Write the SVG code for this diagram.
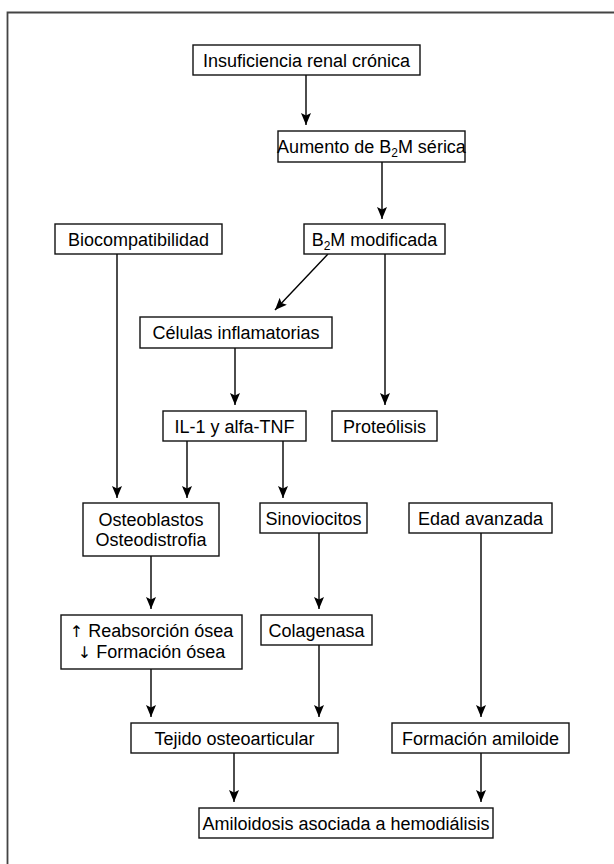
<svg xmlns="http://www.w3.org/2000/svg" width="614" height="864" viewBox="0 0 614 864">
<defs>
<marker id="ah" viewBox="0 0 12 10" refX="12" refY="5" markerWidth="12" markerHeight="10" markerUnits="userSpaceOnUse" orient="auto">
<path d="M0,0 L12,5 L0,10 L2.5,5 z" fill="#000"/>
</marker>
</defs>
<style>
.b{fill:#fff;stroke:#111;stroke-width:1.4}
.t{font-family:"Liberation Sans",Arial,Helvetica,sans-serif;font-size:18px;fill:#000;text-anchor:middle}
.s{font-size:12px}
.ar{font-family:"DejaVu Sans",sans-serif;font-size:16px}
.c{stroke:#000;stroke-width:1.4;fill:none;marker-end:url(#ah)}
</style>
<rect width="614" height="864" fill="#fff"/>
<path d="M7.5,864 V12.5 H614" fill="none" stroke="#444" stroke-width="1.8"/>

<g id="connectors">
<line class="c" x1="306" y1="75" x2="306" y2="125"/>
<line class="c" x1="382" y1="162" x2="382" y2="219"/>
<line class="c" x1="328" y1="254" x2="275" y2="310"/>
<line class="c" x1="117" y1="254" x2="117" y2="498"/>
<line class="c" x1="385" y1="254" x2="385" y2="405"/>
<line class="c" x1="235" y1="348" x2="235" y2="405"/>
<line class="c" x1="187" y1="441" x2="187" y2="498"/>
<line class="c" x1="283" y1="441" x2="283" y2="498"/>
<line class="c" x1="151" y1="556" x2="151" y2="609"/>
<line class="c" x1="319" y1="533" x2="319" y2="609"/>
<line class="c" x1="481" y1="533" x2="481" y2="717"/>
<line class="c" x1="151" y1="669" x2="151" y2="717"/>
<line class="c" x1="319" y1="645" x2="319" y2="717"/>
<line class="c" x1="234" y1="753" x2="234" y2="802"/>
<line class="c" x1="481" y1="753" x2="481" y2="802"/>
</g>

<g id="n1"><rect class="b" x="193" y="45" width="227" height="30"/><text class="t" x="306.5" y="66.5">Insuficiencia renal crónica</text></g>
<g id="n2"><rect class="b" x="278" y="131" width="187" height="31"/><text class="t" x="371.5" y="153">Aumento de B<tspan class="s" dy="4">2</tspan><tspan dy="-4">M sérica</tspan></text></g>
<g id="n3"><rect class="b" x="55" y="224" width="167" height="30"/><text class="t" x="138.5" y="245.5">Biocompatibilidad</text></g>
<g id="n4"><rect class="b" x="304" y="224" width="141" height="30"/><text class="t" x="374.5" y="245.5">B<tspan class="s" dy="4">2</tspan><tspan dy="-4">M modificada</tspan></text></g>
<g id="n5"><rect class="b" x="140" y="317" width="192" height="31"/><text class="t" x="236" y="339">Células inflamatorias</text></g>
<g id="n6"><rect class="b" x="163" y="411" width="143" height="30"/><text class="t" x="234.5" y="432.5">IL-1 y alfa-TNF</text></g>
<g id="n7"><rect class="b" x="332" y="411" width="105" height="30"/><text class="t" x="384.5" y="432.5">Proteólisis</text></g>
<g id="n8"><rect class="b" x="83" y="503" width="136" height="53"/><text class="t" x="151" y="525.5">Osteoblastos</text><text class="t" x="151" y="545.5">Osteodistrofia</text></g>
<g id="n9"><rect class="b" x="260" y="503" width="107" height="30"/><text class="t" x="313.5" y="524.5">Sinoviocitos</text></g>
<g id="n10"><rect class="b" x="409" y="503" width="143" height="30"/><text class="t" x="480.5" y="524.5">Edad avanzada</text></g>
<g id="n11"><rect class="b" x="61" y="615" width="181" height="54"/><text class="t" x="151.5" y="637"><tspan class="ar">↑</tspan> Reabsorción ósea</text><text class="t" x="151.5" y="658"><tspan class="ar">↓</tspan> Formación ósea</text></g>
<g id="n12"><rect class="b" x="261" y="615" width="111" height="30"/><text class="t" x="316.5" y="636.5">Colagenasa</text></g>
<g id="n13"><rect class="b" x="131" y="723" width="207" height="30"/><text class="t" x="234.5" y="744.5">Tejido osteoarticular</text></g>
<g id="n14"><rect class="b" x="392" y="723" width="177" height="30"/><text class="t" x="480.5" y="744.5">Formación amiloide</text></g>
<g id="n15"><rect class="b" x="199" y="808" width="294" height="30"/><text class="t" x="346" y="829.5">Amiloidosis asociada a hemodiálisis</text></g>
</svg>
